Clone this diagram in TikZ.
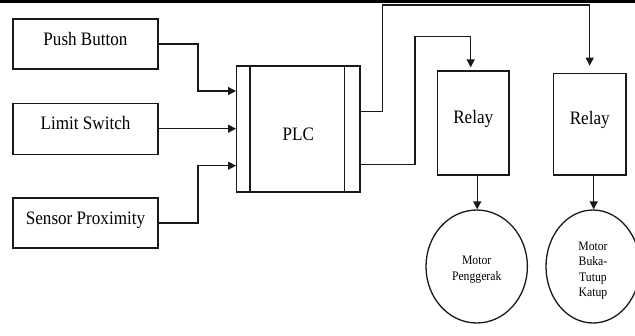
\documentclass[tikz,border=0pt]{standalone}
\usepackage{fontspec}
\newfontfamily\tnr{Liberation Serif}
\usetikzlibrary{shapes.geometric,arrows.meta}
\newcommand{\nx}[1]{\scalebox{0.9}[1]{#1}}
\begin{document}
\begin{tikzpicture}[x=1pt,y=-1pt, line width=1.3pt,
 box/.style={draw=black!90, rectangle, inner sep=0pt, font=\tnr\fontsize{19}{22}\selectfont, text height=13pt, text depth=11pt},
 motor/.style={draw=black!90, ellipse, inner sep=0pt},
 mlab/.style={font=\tnr\fontsize{13}{15.5}\selectfont, align=center},
 arr/.style={draw=black!90, -{Triangle[length=8pt,width=8pt]}},
 ln/.style={draw=black!90},
]
\useasboundingbox (0,0) rectangle (635,335);
\clip (0,0) rectangle (635,335);
\fill[black] (0,0) rectangle (635,3);

\node[box, minimum width=145pt, minimum height=50pt] (push) at (85.5,44) {\nx{Push Button}};
\node[box, minimum width=145pt, minimum height=51pt] (limit) at (85.5,128.7) {\nx{Limit Switch}};
\node[box, minimum width=145pt, minimum height=50pt] (sensor) at (85.5,223) {\nx{Sensor Proximity}};
\node[box, minimum width=123.3pt, minimum height=126pt, text height=22pt, text depth=0pt] (plc) at (298.3,129) {\nx{PLC}};
\draw[ln] ([xshift=14pt]plc.north west) -- ([xshift=14pt]plc.south west);
\draw[ln] ([xshift=-16pt]plc.north east) -- ([xshift=-16pt]plc.south east);
\node[box, minimum width=71.7pt, minimum height=104pt, text depth=13pt] (r1) at (473.2,123) {\nx{Relay}};
\node[box, minimum width=72.7pt, minimum height=101.7pt, text depth=13pt] (r2) at (589.7,124.2) {\nx{Relay}};
\node[motor, minimum width=101.4pt, minimum height=113pt, label={[mlab, yshift=-3pt]center:\nx{Motor}\\\nx{Penggerak}}] (m1) at (476.7,266.5) {};
\node[motor, minimum width=94pt, minimum height=113pt, label={[mlab, yshift=-4pt]center:\nx{Motor}\\\nx{Buka-}\\\nx{Tutup}\\\nx{Katup}}] (m2) at (593,266.5) {};

\draw[arr] (push.east) -- (198,44) |- (plc.west |- 0,91);
\draw[arr] (limit.east) -- (limit.east -| plc.west);
\draw[arr] (sensor.east) -- (198,223) |- (plc.west |- 0,165.7);
\draw[arr, shorten >=7pt] (plc.east |- 0,111.7) -| (382.3,5) -| (r2.north);
\draw[arr, shorten >=3pt] (plc.east |- 0,164.3) -| (415,36.7) -| ([xshift=-2.5pt]r1.north);
\draw[arr] ([xshift=4pt]r1.south) -- ([xshift=4pt]r1.south |- m1.north);
\draw[arr] ([xshift=4pt]r2.south) -- ([xshift=4pt]r2.south |- m2.north);
\end{tikzpicture}
\end{document}
